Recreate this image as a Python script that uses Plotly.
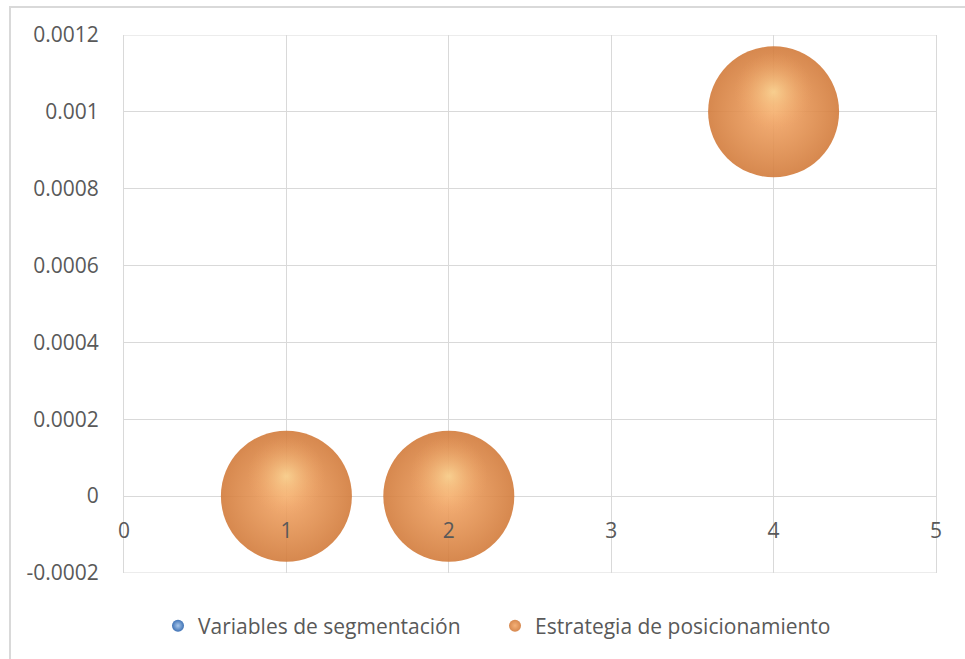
import plotly.graph_objects as go

# Bubble chart data
x_vals = [1, 2, 4]
y_vals = [0, 0, 0.001]
bubble_sizes = [1, 1, 1]

series_names = ["Variables de segmentación", "Estrategia de posicionamiento"]

y_ticks = [-0.0002, 0, 0.0002, 0.0004, 0.0006, 0.0008, 0.001, 0.0012]
y_tick_text = ["-0.0002", "0", "0.0002", "0.0004", "0.0006", "0.0008", "0.001", "0.0012"]
x_ticks = [0, 1, 2, 3, 4, 5]
x_tick_text = ["0", "1", "2", "3", "4", "5"]

FONT = "Open Sans, Noto Sans, sans-serif"
TEXT = "#595959"
GRID = "#D9D9D9"
BUBBLE_PX = 131
PLOT_H = 659 - 35 - 86
sizeref = max(bubble_sizes) / BUBBLE_PX

y_min, y_max = y_ticks[0], y_ticks[-1]
zero_pos = (0 - y_min) / (y_max - y_min)
# lift the specular highlight a little above each sphere's centre (in pixels)
units_per_px = (y_max - y_min) / PLOT_H
highlight_y = [v + 20 * units_per_px for v in y_vals]

fig = go.Figure()

# Blue series (legend entry only)
fig.add_trace(go.Scatter(
    x=[None], y=[None], mode="markers", name=series_names[0],
    marker=dict(size=11, color="#3F72B5",
                gradient=dict(type="radial", color="#A9C8EC"),
                line=dict(width=0)),
))

# Orange spheres: shaded body
fig.add_trace(go.Scatter(
    x=x_vals, y=y_vals, mode="markers", name=series_names[1],
    marker=dict(size=bubble_sizes, sizemode="diameter", sizeref=sizeref,
                color="#D27B3B", opacity=0.9,
                gradient=dict(type="radial", color="#F4A868"),
                line=dict(width=0)),
))

# Soft specular highlight on each sphere
fig.add_trace(go.Scatter(
    x=x_vals, y=highlight_y, mode="markers", showlegend=False, hoverinfo="skip",
    marker=dict(size=[s * 0.6 for s in bubble_sizes], sizemode="diameter",
                sizeref=sizeref, color="rgba(244,168,104,0)",
                gradient=dict(type="radial", color="rgba(255,232,165,0.9)"),
                line=dict(width=0)),
))

fig.update_layout(
    width=965, height=659,
    margin=dict(l=124, r=29, t=35, b=86),
    paper_bgcolor="white", plot_bgcolor="white",
    font=dict(family=FONT, color=TEXT, size=21),
    xaxis=dict(range=[x_ticks[0], x_ticks[-1]], tickvals=x_ticks, ticktext=x_tick_text,
               showgrid=True, gridcolor=GRID, gridwidth=1, zeroline=False,
               showline=False, anchor="free", position=zero_pos,
               ticks="", ticklabelstandoff=20, tickfont=dict(size=21, color=TEXT)),
    yaxis=dict(range=[y_min, y_max], tickvals=y_ticks, ticktext=y_tick_text,
               showgrid=True, gridcolor=GRID, gridwidth=1, zeroline=False,
               showline=True, linecolor=GRID, linewidth=1, mirror=True,
               ticks="", ticklabelstandoff=20,
               tickfont=dict(size=21, color=TEXT)),
    legend=dict(orientation="h", x=0.4569, xanchor="center", y=-0.0985, yanchor="middle",
                font=dict(size=21, color=TEXT), itemwidth=30, itemsizing="constant",
                entrywidth=292, tracegroupgap=0),
    showlegend=True,
    shapes=[
        # outer chart frame
        dict(type="rect", xref="paper", yref="paper",
             x0=-0.1404, x1=1.06, y0=-0.2, y1=1.052,
             line=dict(color="#D9D9D9", width=2), layer="below"),
        # bottom gridline at the lower end of the value axis
        dict(type="line", xref="paper", yref="y", x0=0, x1=1, y0=y_min, y1=y_min,
             line=dict(color=GRID, width=1), layer="below"),
        # top gridline at the upper end of the value axis
        dict(type="line", xref="paper", yref="y", x0=0, x1=1, y0=y_max, y1=y_max,
             line=dict(color=GRID, width=1), layer="below"),
    ],
)

fig.write_html("out.html")
